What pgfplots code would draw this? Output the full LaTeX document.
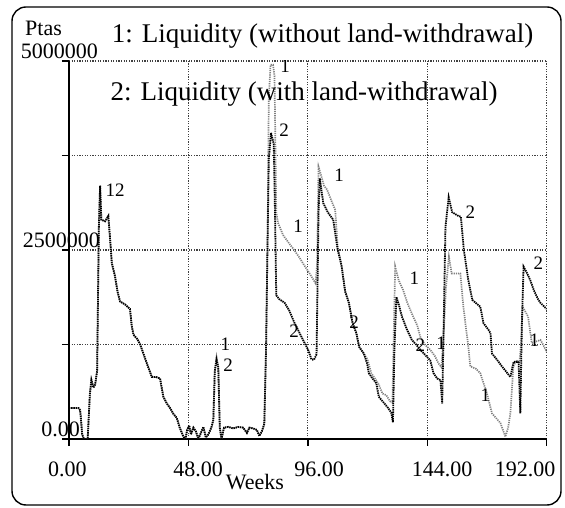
\documentclass[border=0pt]{standalone}
\usepackage{pgfplots}
\pgfplotsset{compat=1.18}
\usepackage{fontspec}
\setmainfont{Liberation Serif}
\begin{document}
\begin{tikzpicture}
\path (-69pt,-69pt) rectangle (496pt,439pt);
\draw[line width=1.4pt, rounded corners=14pt] (-57pt,-66pt) rectangle (492pt,432pt);
\begin{axis}[
  at={(0pt,0pt)}, anchor=south west,
  scale only axis, width=477.7pt, height=378pt,
  xmin=0, xmax=192, ymin=0, ymax=5000000,
  axis lines=left, axis line style={-, line width=1.8pt},
  xtick={0,48,96,144,192}, ytick={0,1250000,2500000,3750000,5000000},
  xticklabels={}, yticklabels={}, scaled y ticks=false, scaled x ticks=false,
  tick align=outside, major tick length=7pt,
  tick style={line width=1.5pt, black},
  grid=major, grid style={black!75, line width=1.2pt, dash pattern=on 1.1pt off 1.5pt},
]
% Series 1: without land-withdrawal
\addplot[black!50, line width=1.7pt, dash pattern=on 1.2pt off 1.0pt] coordinates {
(0,410000)(3.8,410000)(4.5,380000)(5.3,60000)(6.0,0)(7.5,0)(8.4,600000)(9.0,780000)(9.8,680000)(10.5,720000)(11.3,900000)(12.0,2800000)(12.5,3350000)(13.0,2900000)(14.5,2880000)(15.8,2950000)(16.5,2650000)(17.2,2330000)(18.5,2150000)(19.5,1950000)(20.5,1820000)(22.5,1780000)(24.5,1720000)(25.2,1500000)(25.9,1380000)(27.5,1320000)(28.6,1250000)(29.9,1130000)(31.5,980000)(33.3,820000)(35.0,820000)(36.6,800000)(37.9,560000)(39.3,470000)(40.6,410000)(42.0,330000)(43.3,280000)(44.5,150000)(46.0,30000)(46.8,0)(47.5,120000)(48.3,180000)(49.0,60000)(50.0,150000)(51.0,100000)(52.0,0)(53.0,80000)(54.0,160000)(55.0,20000)(56.0,60000)(57.2,150000)(58.0,250000)(58.6,900000)(59.3,1080000)(60.0,950000)(60.6,150000)(61.3,0)(62.3,150000)(64.0,160000)(66.0,140000)(68.0,160000)(70.0,150000)(71.5,80000)(72.5,150000)(74.0,140000)(75.5,120000)(76.5,40000)(77.5,100000)(78.5,200000)(79.2,1200000)
(79.8,2600000)(80.3,4500000)(81.0,4950000)(82.0,4950000)(82.6,4800000)(83.3,3000000)(84.0,2860000)(86.0,2700000)(88.4,2590000)(90.5,2500000)(92.4,2410000)(94.5,2300000)(96.5,2200000)(99.1,2060000)(99.7,2300000)(100.3,3600000)(101.2,3500000)(102.5,3350000)(103.7,3300000)(105.5,3150000)(107.0,3030000)(108.0,2540000)(109.5,2300000)(111.0,1950000)(112.5,1800000)(114.0,1530000)(115.5,1400000)(116.6,1220000)(118.5,1130000)(120.0,1050000)(121.5,870000)(123.0,800000)(124.5,720000)(126.0,600000)(127.5,580000)(129.0,500000)(130.0,480000)(130.6,1500000)(131.1,2280000)(132.5,2100000)(134.3,1970000)(136.0,1800000)(138.3,1620000)(140.0,1500000)(141.2,1350000)(143.0,1250000)(145.2,1180000)(147.0,1100000)(148.5,1000000)(149.7,950000)(150.6,1400000)(151.5,2000000)(152.7,2410000)(153.8,2190000)(157.3,2190000)(158.5,1750000)(160.5,1220000)(161.3,960000)(163.5,930000)(165.3,870000)(168.0,600000)(170.0,340000)(173.4,210000)(175.4,30000)(176.5,150000)(177.4,340000)(178.6,960000)(179.8,1040000)(181.0,1000000)(181.8,1300000)(182.3,1750000)(184.5,1620000)(186.0,1270000)(189.5,1310000)(191.0,1220000)(192,1150000)
};
% Series 2: with land-withdrawal
\addplot[black, line width=1.8pt, dash pattern=on 1.4pt off 0.8pt] coordinates {
(0,410000)(3.8,410000)(4.5,380000)(5.3,60000)(6.0,0)(7.5,0)(8.4,600000)(9.0,780000)(9.8,680000)(10.5,720000)(11.3,900000)(12.0,2800000)(12.5,3350000)(13.0,2900000)(14.5,2880000)(15.8,2950000)(16.5,2650000)(17.2,2330000)(18.5,2150000)(19.5,1950000)(20.5,1820000)(22.5,1780000)(24.5,1720000)(25.2,1500000)(25.9,1380000)(27.5,1320000)(28.6,1250000)(29.9,1130000)(31.5,980000)(33.3,820000)(35.0,820000)(36.6,800000)(37.9,560000)(39.3,470000)(40.6,410000)(42.0,330000)(43.3,280000)(44.5,150000)(46.0,30000)(46.8,0)(47.5,120000)(48.3,180000)(49.0,60000)(50.0,150000)(51.0,100000)(52.0,0)(53.0,80000)(54.0,160000)(55.0,20000)(56.0,60000)(57.2,150000)(58.0,250000)(58.6,900000)(59.3,1050000)(60.0,950000)(60.6,150000)(61.3,0)(62.3,150000)(64.0,160000)(66.0,140000)(68.0,160000)(70.0,150000)(71.5,80000)(72.5,150000)(74.0,140000)(75.5,120000)(76.5,40000)(77.5,100000)(78.5,200000)(79.2,1200000)
(79.8,2600000)(80.3,3700000)(81.2,4050000)(82.3,3900000)(82.8,3000000)(83.3,1900000)(84.5,1850000)(86.7,1800000)(88.5,1700000)(90.7,1530000)(92.7,1400000)(94.7,1270000)(96.1,1180000)(97.5,1050000)(98.5,1050000)(99.5,1120000)(100.3,3000000)(100.8,3450000)(102.2,3120000)(104.0,3000000)(106.2,2900000)(108.0,2500000)(109.5,2300000)(111.0,1950000)(112.5,1800000)(114.0,1530000)(115.5,1400000)(116.6,1220000)(118.5,1130000)(119.8,1000000)(120.5,870000)(122.0,800000)(123.5,740000)(124.5,560000)(126.5,480000)(128.0,420000)(129.5,350000)(130.2,220000)(130.8,1200000)(131.6,1880000)(132.8,1750000)(133.8,1620000)(135.8,1450000)(137.8,1310000)(139.5,1250000)(141.2,1180000)(143.5,1100000)(145.2,1040000)(146.5,870000)(148.0,800000)(149.3,780000)(150.0,470000)(150.6,1500000)(151.3,2800000)(152.6,3200000)(154.0,3000000)(156.5,2950000)(157.5,2940000)(158.7,2500000)(160.5,2100000)(162.1,1840000)(163.5,1800000)(165.3,1750000)(166.6,1530000)(168.5,1450000)(169.4,1400000)(170.0,1130000)(172.0,1050000)(174.0,960000)(175.5,900000)(177.4,820000)(178.7,1020000)(180.7,1020000)(181.4,340000)(182.0,1500000)(182.7,2280000)(184.0,2200000)(185.4,2100000)(186.8,1970000)(188.5,1850000)(189.5,1800000)(191.0,1750000)(192,1720000)
};
% curve labels
\begin{scope}[every node/.style={font=\fontsize{19}{21}\selectfont, inner sep=0pt}]
\node at (axis cs:18.5,3290000) {12};
\node at (axis cs:62.8,1250000) {1};
\node at (axis cs:64.0,970000) {2};
\node at (axis cs:86.9,4930000) {1};
\node at (axis cs:86.5,4090000) {2};
\node at (axis cs:92.1,2820000) {1};
\node at (axis cs:90.5,1430000) {2};
\node at (axis cs:108.6,3490000) {1};
\node at (axis cs:114.6,1550000) {2};
\node at (axis cs:138.8,2130000) {1};
\node at (axis cs:141.2,1240000) {2};
\node at (axis cs:149.6,1270000) {1};
\node at (axis cs:161.3,3000000) {2};
\node at (axis cs:167.3,580000) {1};
\node at (axis cs:188.7,2330000) {2};
\node at (axis cs:187.0,1310000) {1};
\end{scope}
\end{axis}
% titles and tick labels
\node[anchor=base, inner sep=0pt, font=\fontsize{27}{30}\selectfont] at (253.5pt,396pt) {1: Liquidity (without land-withdrawal)};
\node[anchor=base, inner sep=0pt, font=\fontsize{27}{30}\selectfont] at (235pt,338pt) {2: Liquidity (with land-withdrawal)};
\begin{scope}[every node/.style={inner sep=0pt, font=\fontsize{22}{24}\selectfont}]
\node[anchor=base west] at (-44pt,403pt) {Ptas};
\node[anchor=base east] at (29pt,380pt) {5000000};
\node[anchor=base east] at (31pt,191pt) {2500000};
\node[anchor=base east] at (11pt,2pt) {0.00};
\node[anchor=base] at (-1.5pt,-38pt) {0.00};
\node[anchor=base] at (129pt,-38pt) {48.00};
\node[anchor=base] at (250pt,-38pt) {96.00};
\node[anchor=base] at (373pt,-38pt) {144.00};
\node[anchor=base] at (456pt,-38pt) {192.00};
\node[anchor=base] at (186pt,-51pt) {Weeks};
\end{scope}
\end{tikzpicture}
\end{document}
